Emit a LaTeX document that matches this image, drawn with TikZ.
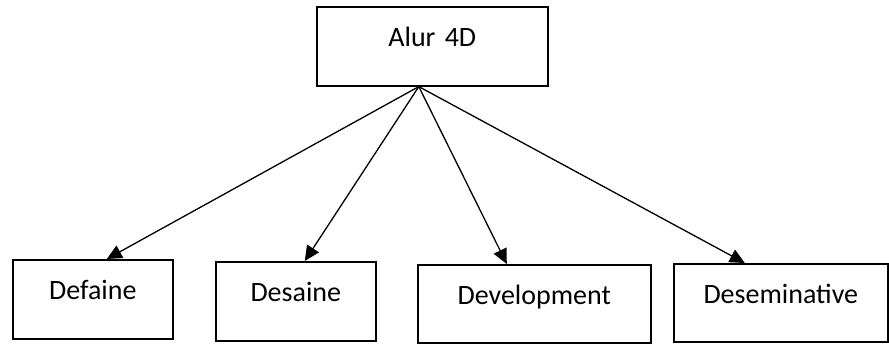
\documentclass[tikz,border=0pt]{standalone}
\usepackage{fontspec}
\setmainfont{Carlito}
\usetikzlibrary{arrows.meta}
\begin{document}
\begin{tikzpicture}[x=1pt,y=-1pt,
  box/.style={draw=black, line width=1.6pt, rectangle, inner sep=0pt, anchor=north west,
    align=center, text height=39.5pt, font=\fontsize{28}{32}\selectfont},
  conn/.style={line width=1.3pt, -{Triangle[length=15pt,width=14pt]}}]
\useasboundingbox (0,0) rectangle (889,343);
\node[box, text width=231pt, text depth=39.5pt] (top) at (316,6) {Alur 4D};
\node[box, text width=160pt, text depth=39.5pt] (d1) at (12,259) {Defaine};
\node[box, text width=160pt, text depth=39.5pt] (d2) at (215,261) {Desaine};
\node[box, text width=233pt, text depth=38.5pt] (d3) at (417,264) {Development};
\node[box, text width=214pt, text depth=38.5pt] (d4) at (673,263) {Deseminative};
\coordinate (hub) at ([xshift=-13.5pt]top.south);
\draw[conn] (hub) -- ([xshift=14pt]d1.north);
\draw[conn] (hub) -- ([xshift=9pt]d2.north);
\draw[conn] (hub) -- ([xshift=-27.5pt]d3.north);
\draw[conn] (hub) -- ([xshift=-36pt]d4.north);
\end{tikzpicture}
\end{document}
